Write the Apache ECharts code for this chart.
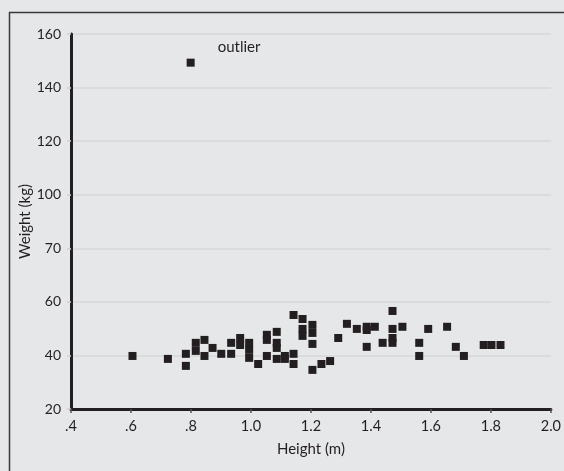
<!DOCTYPE html>
<html>
<head>
<meta charset="utf-8">
<script src="https://cdn.jsdelivr.net/npm/echarts@6/dist/echarts.min.js"></script>
<style>
html,body{margin:0;padding:0;background:#e6e7e9;}
#c{width:564px;height:471px;}
</style>
</head>
<body>
<div id="c"></div>
<script>
// Data (height in m, weight on the chart's vertical scale)
const heights = [0.605,0.723,0.783,0.783,0.816,0.816,0.845,0.845,0.872,0.901,
  0.934,0.934,0.964,0.964,0.994,0.994,0.994,1.024,1.053,1.053,
  1.053,1.086,1.086,1.086,1.086,1.113,1.113,1.142,1.142,1.142,
  1.172,1.172,1.172,1.205,1.205,1.205,1.205,1.235,1.264,1.291,
  1.320,1.353,1.386,1.386,1.413,1.386,1.439,1.472,1.472,1.472,
  1.472,1.505,1.561,1.561,1.591,1.654,1.683,1.710,1.776,1.802,1.832];
const weights = [39.8,38.7,40.6,36.1,44.7,41.7,45.8,39.8,42.8,40.6,
  44.7,40.6,46.5,43.9,44.7,42.1,39.1,36.8,47.7,45.8,
  39.8,48.8,44.7,42.8,38.7,39.8,38.7,40.6,36.8,55.1,
  53.6,49.9,47.3,51.4,48.4,44.3,34.6,36.8,37.9,46.5,
  51.8,49.9,50.7,49.5,50.7,43.2,44.7,56.6,49.9,46.5,
  44.7,50.7,44.7,39.8,49.9,50.7,43.2,39.8,43.9,43.9,43.9];
const outlierHeight = 0.799;
const outlierWeight = 149.3;
const outlierLabel = 'outlier';
const xTickLabels = ['.4','.6','.8','1.0','1.2','1.4','1.6','1.8','2.0'];
const yTickLabels = ['20','40','60','70','100','120','140','160'];
const xName = 'Height (m)';
const yName = 'Weight (kg)';

const FONT = 'Lato';
const INK = '#231f20';

const pts = heights.map((h, i) => [h, weights[i]]);
pts.push({
  value: [outlierHeight, outlierWeight],
  label: {
    show: true, formatter: outlierLabel, position: 'right', distance: 5,
    offset: [18, -16], color: INK, fontFamily: FONT, fontSize: 15
  }
});

const chart = echarts.init(document.getElementById('c'), null, {renderer: 'canvas'});
chart.setOption({
  backgroundColor: '#e6e7e9',
  animation: false,
  graphic: [{
    type: 'rect', z: -10, silent: true,
    shape: {x: 9.5, y: 12.5, width: 700, height: 600},
    style: {fill: 'none', stroke: '#3a3a3a', lineWidth: 1.5}
  }],
  grid: {left: 71, right: 8, top: 34, bottom: 62, containLabel: false},
  xAxis: {
    type: 'value', min: 0.4, max: 2.0, interval: 0.2,
    name: xName, nameLocation: 'middle', nameGap: 33, nameMoveOverlap: false,
    nameTextStyle: {color: INK, fontFamily: FONT, fontSize: 15},
    axisLine: {show: true, lineStyle: {color: INK, width: 3}},
    axisTick: {show: true, length: 4, lineStyle: {color: '#555', width: 1.5}},
    axisLabel: {
      color: INK, fontFamily: FONT, fontSize: 14.5, margin: 10,
      formatter: (v) => xTickLabels[Math.round((v - 0.4) / 0.2)]
    },
    splitLine: {show: false}
  },
  yAxis: {
    type: 'value', min: 20, max: 160, interval: 20,
    name: yName, nameLocation: 'middle', nameGap: 38, nameRotate: 90, nameMoveOverlap: false,
    nameTextStyle: {color: INK, fontFamily: FONT, fontSize: 15},
    axisLine: {show: true, lineStyle: {color: INK, width: 3}},
    axisTick: {show: true, length: 4, lineStyle: {color: '#cfd0d2', width: 1.5}},
    axisLabel: {
      color: INK, fontFamily: FONT, fontSize: 14, margin: 10,
      formatter: (v) => yTickLabels[Math.round((v - 20) / 20)]
    },
    splitLine: {show: true, lineStyle: {color: '#d6d7d9', width: 1.5}}
  },
  series: [{
    type: 'scatter',
    symbol: 'rect',
    symbolSize: 8,
    itemStyle: {color: INK, opacity: 1},
    data: pts
  }]
});
</script>
</body>
</html>
